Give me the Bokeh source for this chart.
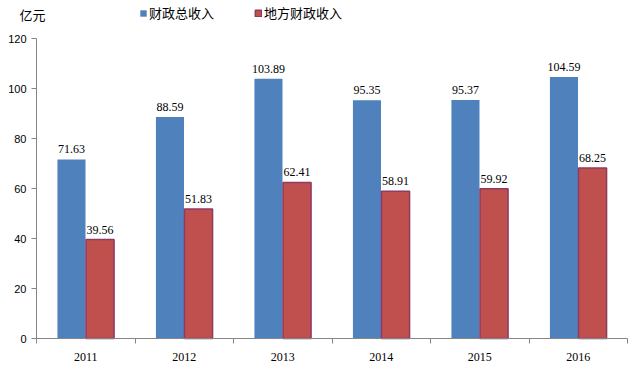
from bokeh.plotting import figure
from bokeh.models import ColumnDataSource, FixedTicker, Legend, LegendItem, Label
from bokeh.core.properties import value
from bokeh.embed import file_html
from bokeh.resources import INLINE

years = ["2011", "2012", "2013", "2014", "2015", "2016"]
total_rev = [71.63, 88.59, 103.89, 95.35, 95.37, 104.59]
local_rev = [39.56, 51.83, 62.41, 58.91, 59.92, 68.25]
y_ticks = [0, 20, 40, 60, 80, 100, 120]

BLUE = "#4F81BD"
RED = "#C0504D"
RED_LINE = "#8E3A63"
AXIS = "#868686"

W, H = 630, 369
PL, PR, PT, PB = 36, 3, 38, 31   # plot-area margins in px

n = len(years)
ymax = y_ticks[-1]
sx = (W - PL - PR) / n
sy = (H - PT - PB) / ymax

off = 0.145
bw = 0.285
centers = [i + 0.5 for i in range(n)]

src = ColumnDataSource(dict(
    xb=[c - off for c in centers],
    xr=[c + off for c in centers],
    total=total_rev,
    local=local_rev,
    tl=[f"{v:.2f}" for v in total_rev],
    ll=[f"{v:.2f}" for v in local_rev],
))

p = figure(width=W, height=H,
           x_range=(-PL / sx, n + PR / sx), y_range=(-PB / sy, ymax + PT / sy),
           output_backend="svg", toolbar_location=None,
           min_border_left=0, min_border_right=0, min_border_top=0, min_border_bottom=0)
p.outline_line_color = None
p.grid.visible = False

rb = p.vbar(x="xb", top="total", width=bw, source=src, fill_color=BLUE, line_color=None)
rr = p.vbar(x="xr", top="local", width=bw, source=src, fill_color=RED,
            line_color=RED_LINE, line_width=1.5)

p.text(x="xb", y="total", text="tl", source=src, text_align="center", text_baseline="bottom",
       y_offset=-6, text_font=value("Liberation Serif"), text_font_size="12px", text_color="black")
p.text(x="xr", y="local", text="ll", source=src, text_align="center", text_baseline="bottom",
       y_offset=-6, text_font=value("Liberation Serif"), text_font_size="12px", text_color="black")

# x axis
p.xaxis.fixed_location = 0
p.xaxis.bounds = (0, n)
p.xaxis.ticker = FixedTicker(ticks=centers, minor_ticks=list(range(n + 1)))
p.xaxis.major_label_overrides = {c: y for c, y in zip(centers, years)}
p.xaxis.major_tick_line_color = None
p.xaxis.minor_tick_line_color = AXIS
p.xaxis.minor_tick_out = 5
p.xaxis.minor_tick_in = 0
p.xaxis.axis_line_color = AXIS
p.xaxis.major_label_text_font = "Liberation Serif"
p.xaxis.major_label_text_font_size = "12px"
p.xaxis.major_label_text_color = "black"
p.xaxis.major_label_standoff = 8

# y axis
p.yaxis.fixed_location = 0
p.yaxis.bounds = (0, ymax)
p.yaxis.ticker = FixedTicker(ticks=y_ticks)
p.yaxis.minor_tick_line_color = None
p.yaxis.major_tick_out = 5
p.yaxis.major_tick_in = 0
p.yaxis.major_tick_line_color = AXIS
p.yaxis.axis_line_color = AXIS
p.yaxis.major_label_text_font = "Liberation Sans"
p.yaxis.major_label_text_font_size = "11px"
p.yaxis.major_label_text_color = "black"
p.yaxis.major_label_standoff = 5

legend = Legend(items=[LegendItem(label="财政总收入", renderers=[rb]),
                       LegendItem(label="地方财政收入", renderers=[rr])],
                orientation="horizontal", location=(139, H - 22),
                glyph_width=8, glyph_height=8, label_standoff=2, spacing=40,
                padding=0, margin=0, border_line_color=None, background_fill_alpha=0,
                label_text_font="Noto Sans CJK SC", label_text_font_size="13px",
                label_height=14, label_text_color="black")
p.add_layout(legend)

p.add_layout(Label(x=19, y=H - 14, x_units="screen", y_units="screen", text="亿元",
                   text_font="Noto Sans CJK SC", text_font_size="13px",
                   text_baseline="middle", text_color="black"))

open("out.html", "w").write(file_html(p, INLINE))
